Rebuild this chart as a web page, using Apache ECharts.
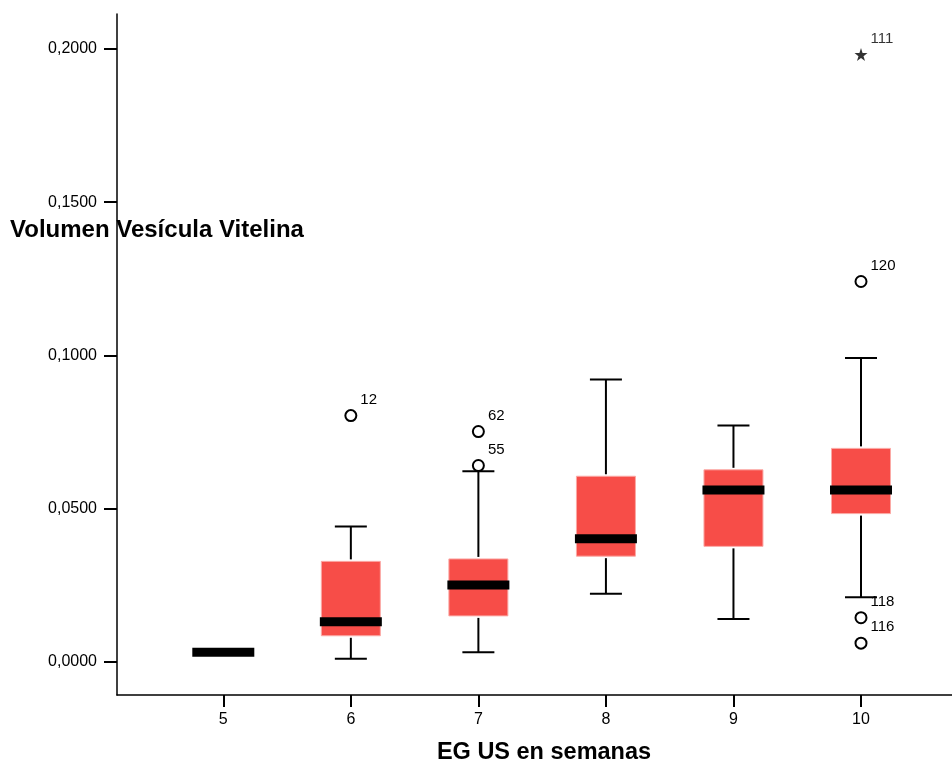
<!DOCTYPE html>
<html>
<head>
<meta charset="utf-8">
<script src="https://cdn.jsdelivr.net/npm/echarts@6/dist/echarts.min.js"></script>
<style>
html,body{margin:0;padding:0;background:#fff;}
#chart{width:952px;height:767px;}
</style>
</head>
<body>
<div id="chart"></div>
<script>
// ---- data ----
const weeks = [5, 6, 7, 8, 9, 10];
const whiskerLow  = [0.0030, 0.0009, 0.0030, 0.0221, 0.0139, 0.0210];
const q1          = [0.0030, 0.0084, 0.0149, 0.0344, 0.0376, 0.0483];
const median      = [0.0030, 0.0130, 0.0250, 0.0401, 0.0560, 0.0560];
const q3          = [0.0030, 0.0327, 0.0335, 0.0605, 0.0626, 0.0696];
const whiskerHigh = [0.0030, 0.0441, 0.0621, 0.0921, 0.0771, 0.0991];

const outlierWeek  = [6, 7, 7, 10, 10, 10];
const outlierValue = [0.0803, 0.0751, 0.0640, 0.1241, 0.0143, 0.0060];
const outlierId    = ['12', '62', '55', '120', '118', '116'];

const extremeWeek  = [10];
const extremeValue = [0.1982];
const extremeId    = ['111'];

const yTicks = [0, 0.05, 0.10, 0.15, 0.20];
const yTickLabels = ['0,0000', '0,0500', '0,1000', '0,1500', '0,2000'];
const xTickLabels = ['5', '6', '7', '8', '9', '10'];

const yTitle = 'Volumen Vesícula Vitelina';
const xTitle = 'EG US en semanas';

// ---- chart ----
const FONT = "'Liberation Sans', Arial, Helvetica, sans-serif";
const chart = echarts.init(document.getElementById('chart'), null, {renderer: 'canvas'});

const boxData = weeks.map((w, i) => [w, whiskerLow[i], q1[i], median[i], q3[i], whiskerHigh[i]]);
const outlierData = outlierWeek.map((w, i) => ({value: [w, outlierValue[i]], name: outlierId[i]}));
const extremeData = extremeWeek.map((w, i) => ({value: [w, extremeValue[i]], name: extremeId[i]}));

const BOX_W = 59, MED_W = 62, MED_H = 9, CAP_W = 32, GAP = 2;

function renderBox(params, api) {
  const x = api.value(0);
  const pLo = api.coord([x, api.value(1)]);
  const pQ1 = api.coord([x, api.value(2)]);
  const pMed = api.coord([x, api.value(3)]);
  const pQ3 = api.coord([x, api.value(4)]);
  const pHi = api.coord([x, api.value(5)]);
  const cx = pMed[0];
  const children = [];
  const lineStyle = {stroke: '#000', lineWidth: 2};
  if (pQ3[1] - GAP - pHi[1] > 0) {
    children.push({type: 'line', shape: {x1: cx, y1: pHi[1], x2: cx, y2: pQ3[1] - GAP}, style: lineStyle});
    children.push({type: 'line', shape: {x1: cx - CAP_W / 2, y1: pHi[1], x2: cx + CAP_W / 2, y2: pHi[1]}, style: lineStyle});
  }
  if (pLo[1] - (pQ1[1] + GAP) > 0) {
    children.push({type: 'line', shape: {x1: cx, y1: pQ1[1] + GAP, x2: cx, y2: pLo[1]}, style: lineStyle});
    children.push({type: 'line', shape: {x1: cx - CAP_W / 2, y1: pLo[1], x2: cx + CAP_W / 2, y2: pLo[1]}, style: lineStyle});
  }
  if (pQ1[1] - pQ3[1] > 0.5) {
    children.push({type: 'rect', shape: {x: cx - BOX_W / 2, y: pQ3[1], width: BOX_W, height: pQ1[1] - pQ3[1]},
      style: {fill: '#F74D48', stroke: '#FBA9A5', lineWidth: 1}});
  }
  children.push({type: 'rect', shape: {x: cx - MED_W / 2, y: pMed[1] - MED_H / 2, width: MED_W, height: MED_H},
    style: {fill: '#000'}});
  return {type: 'group', children};
}

const labelStyle = {
  show: true, position: 'right', distance: 3, offset: [0, -16],
  formatter: p => p.name, color: '#000', fontSize: 15, fontFamily: FONT
};

const option = {
  animation: false,
  backgroundColor: '#fff',
  grid: {left: 117, top: 14, right: 0, bottom: 72, containLabel: false},
  xAxis: {
    type: 'value', min: 4.1665, max: 10.7135,
    splitLine: {show: false},
    axisLine: {show: true, onZero: false, lineStyle: {color: '#000', width: 1.5}},
    axisTick: {show: true, length: 12, lineStyle: {color: '#000', width: 2}, customValues: weeks},
    axisLabel: {color: '#000', fontSize: 16, fontFamily: FONT, margin: 17,
      customValues: weeks, formatter: v => xTickLabels[weeks.indexOf(v)] || ''}
  },
  yAxis: {
    type: 'value', min: -0.01094, max: 0.21146,
    splitLine: {show: false},
    axisLine: {show: true, onZero: false, lineStyle: {color: '#000', width: 1.5}},
    axisTick: {show: true, length: 13, lineStyle: {color: '#000', width: 2}, customValues: yTicks},
    axisLabel: {color: '#000', fontSize: 16, fontFamily: FONT, margin: 20,
      customValues: yTicks, formatter: v => {
        const i = yTicks.findIndex(t => Math.abs(t - v) < 1e-9);
        return i >= 0 ? yTickLabels[i] : '';
      }}
  },
  graphic: [
    {type: 'text', left: 10, top: 218, z: 100,
      style: {text: yTitle, fill: '#000', font: "bold 24px " + FONT}},
    {type: 'text', x: 544, y: 753, z: 100,
      style: {text: xTitle, fill: '#000', font: "bold 23.5px " + FONT, align: 'center', verticalAlign: 'middle'}}
  ],
  series: [
    {type: 'custom', renderItem: renderBox, data: boxData, encode: {x: 0, y: [1, 2, 3, 4, 5]}, z: 2},
    {type: 'scatter', data: outlierData, symbol: 'circle', symbolSize: 11, z: 3,
      itemStyle: {color: '#fff', borderColor: '#000', borderWidth: 2, opacity: 1},
      label: labelStyle},
    {type: 'scatter', data: extremeData, z: 3,
      symbol: 'path://M50,0 L61.8,35.4 L99,35.4 L69,57.3 L80.4,92.7 L50,70.8 L19.6,92.7 L31,57.3 L1,35.4 L38.2,35.4 Z',
      symbolSize: 13, itemStyle: {color: '#000'},
      label: Object.assign({}, labelStyle, {offset: [0, -16]})}
  ]
};
chart.setOption(option);
</script>
</body>
</html>
